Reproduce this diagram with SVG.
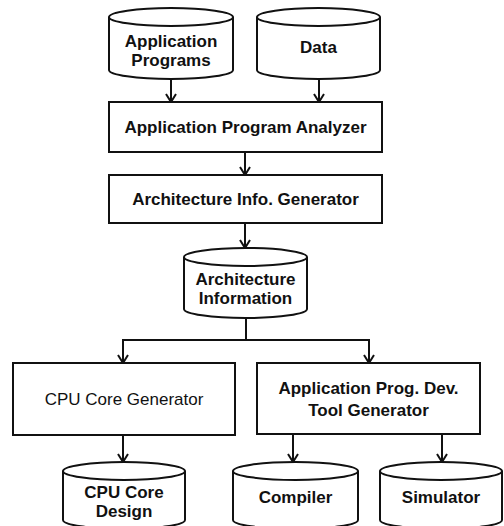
<svg xmlns="http://www.w3.org/2000/svg" width="504" height="526" viewBox="0 0 504 526">
<defs>
<style>
.s{fill:none;stroke:#111;stroke-width:2}
.n{fill:#fff;stroke:#111;stroke-width:2}
.t{font-family:"Liberation Sans",Arial,sans-serif;font-weight:bold;font-size:17px;fill:#111;text-anchor:middle}
.r{font-weight:normal}
</style>
<marker id="ah" viewBox="0 0 12 12" refX="11" refY="6" markerWidth="12" markerHeight="12" markerUnits="userSpaceOnUse" orient="auto">
<polyline points="3,1 11,6 3,11" fill="none" stroke="#111" stroke-width="2"/>
</marker>
</defs>
<rect width="504" height="526" fill="#fff"/>
<g id="connectors" class="s">
<line x1="171" y1="79" x2="171" y2="102" marker-end="url(#ah)"/>
<line x1="319" y1="79" x2="319" y2="102" marker-end="url(#ah)"/>
<line x1="245" y1="152" x2="245" y2="175" marker-end="url(#ah)"/>
<line x1="245" y1="223" x2="245" y2="248" marker-end="url(#ah)"/>
<polyline points="246,318 246,340"/>
<polyline points="123,340 369,340"/>
<line x1="123" y1="339" x2="123" y2="363" marker-end="url(#ah)"/>
<line x1="369" y1="339" x2="369" y2="363" marker-end="url(#ah)"/>
<line x1="123" y1="435" x2="123" y2="462" marker-end="url(#ah)"/>
<line x1="293" y1="434" x2="293" y2="462" marker-end="url(#ah)"/>
<line x1="442" y1="434" x2="442" y2="462" marker-end="url(#ah)"/>
</g>
<g id="app-programs">
<path class="n" d="M109 17 V70 A62 9 0 0 0 233 70 V17"/>
<ellipse class="n" cx="171" cy="17" rx="62" ry="9"/>
<text class="t" x="171" y="47">Application</text>
<text class="t" x="171" y="66">Programs</text>
</g>
<g id="data">
<path class="n" d="M257 17 V70 A61.5 9 0 0 0 380 70 V17"/>
<ellipse class="n" cx="318.5" cy="17" rx="61.5" ry="9"/>
<text class="t" x="318.5" y="53">Data</text>
</g>
<g id="analyzer">
<rect class="n" x="109" y="102" width="273" height="50"/>
<text class="t" x="245.5" y="133">Application Program Analyzer</text>
</g>
<g id="arch-gen">
<rect class="n" x="109" y="175" width="273" height="48"/>
<text class="t" x="245.5" y="205">Architecture Info. Generator</text>
</g>
<g id="arch-info">
<path class="n" d="M184 257 V309 A61.5 9 0 0 0 307 309 V257"/>
<ellipse class="n" cx="245.5" cy="257" rx="61.5" ry="9"/>
<text class="t" x="245.5" y="285">Architecture</text>
<text class="t" x="245.5" y="304">Information</text>
</g>
<g id="cpu-gen">
<rect class="n" x="13" y="363" width="222" height="72"/>
<text class="t r" x="124" y="405">CPU Core Generator</text>
</g>
<g id="tool-gen">
<rect class="n" x="257" y="363" width="223" height="71"/>
<text class="t" x="368.5" y="394">Application Prog. Dev.</text>
<text class="t" x="368.5" y="416">Tool Generator</text>
</g>
<g id="cpu-design">
<path class="n" d="M63 471 V520 A61 9 0 0 0 185 520 V471"/>
<ellipse class="n" cx="124" cy="471" rx="61" ry="9"/>
<text class="t" x="124" y="498">CPU Core</text>
<text class="t" x="124" y="517">Design</text>
</g>
<g id="compiler">
<path class="n" d="M233 471 V520 A62.5 9 0 0 0 358 520 V471"/>
<ellipse class="n" cx="295.5" cy="471" rx="62.5" ry="9"/>
<text class="t" x="295.5" y="503">Compiler</text>
</g>
<g id="simulator">
<path class="n" d="M380 471 V520 A61 9 0 0 0 502 520 V471"/>
<ellipse class="n" cx="441" cy="471" rx="61" ry="9"/>
<text class="t" x="441" y="503">Simulator</text>
</g>
</svg>
